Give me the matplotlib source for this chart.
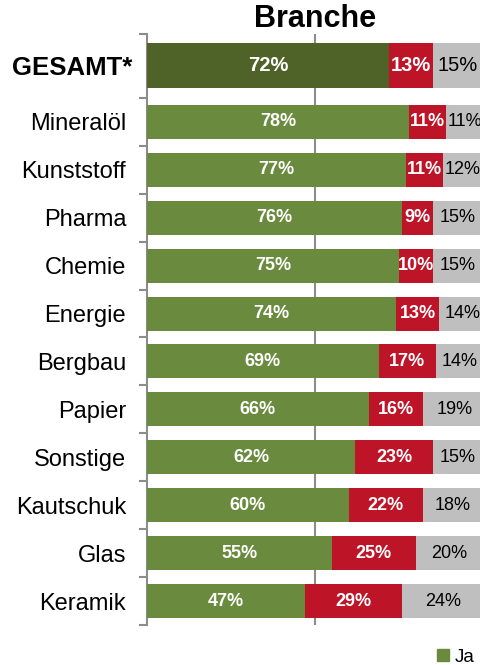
import matplotlib
matplotlib.use("Agg")
import matplotlib.pyplot as plt
import matplotlib.transforms as mtransforms
from matplotlib.patches import Patch
from matplotlib.ticker import FixedLocator

plt.rcParams['font.family'] = ['Liberation Sans', 'DejaVu Sans']

categories = ["GESAMT*", "Mineralöl", "Kunststoff", "Pharma", "Chemie", "Energie",
              "Bergbau", "Papier", "Sonstige", "Kautschuk", "Glas", "Keramik"]
ja = [72, 78, 77, 76, 75, 74, 69, 66, 62, 60, 55, 47]
nein = [13, 11, 11, 9, 10, 13, 17, 16, 23, 22, 25, 29]
weiss_nicht = [15, 11, 12, 15, 15, 14, 14, 19, 15, 18, 20, 24]
legend_labels = ["Ja"]

green_total = "#4F6228"
green = "#6A8B3D"
red = "#BE1428"
grey = "#BFBFBF"
axis_grey = "#8C8C8C"

W, H = 481, 665
fig = plt.figure(figsize=(W / 100, H / 100), dpi=100)
ax = fig.add_axes([147 / W, 1 - 625 / H, (483 - 147) / W, (625 - 34) / H])

first_slot = 4 / 3  # first row (GESAMT) occupies a taller slot
pos = [0.0] + [first_slot / 2 + (i - 1) + 0.5 for i in range(1, len(categories))]
heights = [0.94] + [0.71] * (len(categories) - 1)
ja_colors = [green_total] + [green] * (len(categories) - 1)

ja_f = [v / 100 for v in ja]
nein_f = [v / 100 for v in nein]
wn_f = [v / 100 for v in weiss_nicht]
left2 = [a + b for a, b in zip(ja_f, nein_f)]

ax.barh(pos, ja_f, height=heights, color=ja_colors, zorder=3)
ax.barh(pos, nein_f, left=ja_f, height=heights, color=red, zorder=3)
ax.barh(pos, wn_f, left=left2, height=heights, color=grey, zorder=3)

for i in range(len(categories)):
    fs = 14.5 if i == 0 else 13
    ax.text(ja_f[i] / 2, pos[i], f"{ja[i]}%", ha='center', va='center',
            color='white', fontweight='bold', fontsize=fs, zorder=4)
    ax.text(ja_f[i] + nein_f[i] / 2, pos[i], f"{nein[i]}%", ha='center', va='center',
            color='white', fontweight='bold', fontsize=fs, zorder=4)
    ax.text(left2[i] + wn_f[i] / 2, pos[i], f"{weiss_nicht[i]}%", ha='center',
            va='center', color='black', fontsize=fs, zorder=4)

top = -first_slot / 2
bottom = first_slot / 2 + (len(categories) - 1)
ax.set_ylim(bottom, top)
ax.set_xlim(0, 1)

ax.set_yticks(pos)
ax.set_yticklabels(categories)
ax.tick_params(axis='y', which='major', length=0, pad=15)
for i, lbl in enumerate(ax.get_yticklabels()):
    if i == 0:
        lbl.set_fontweight('bold')
        lbl.set_fontsize(18.5)
        lbl.set_transform(lbl.get_transform() +
                          mtransforms.ScaledTranslation(6 / 100, 0, fig.dpi_scale_trans))
    else:
        lbl.set_fontsize(17)
bounds = [top] + [first_slot / 2 + k for k in range(len(categories))]
ax.yaxis.set_minor_locator(FixedLocator(bounds))
ax.tick_params(axis='y', which='minor', length=5.5, width=1.5, color=axis_grey, direction='out')

ax.set_xticks([0.5])
ax.set_xticklabels([])
ax.tick_params(axis='x', length=0)
ax.grid(axis='x', color=axis_grey, linewidth=1.5, zorder=0)
ax.set_axisbelow(True)

for s in ['top', 'right', 'bottom']:
    ax.spines[s].set_visible(False)
ax.spines['left'].set_color(axis_grey)
ax.spines['left'].set_linewidth(1.5)

ax.set_title("Branche", fontsize=22, fontweight='bold', pad=3)

fig.legend(handles=[Patch(color=green)], labels=legend_labels, loc='lower left',
           bbox_to_anchor=(437 / W, -1 / H), frameon=False, fontsize=13.5,
           handlelength=0.62, handleheight=0.62, handletextpad=0.35,
           borderpad=0, borderaxespad=0)

fig.savefig("out.png", dpi=100)
